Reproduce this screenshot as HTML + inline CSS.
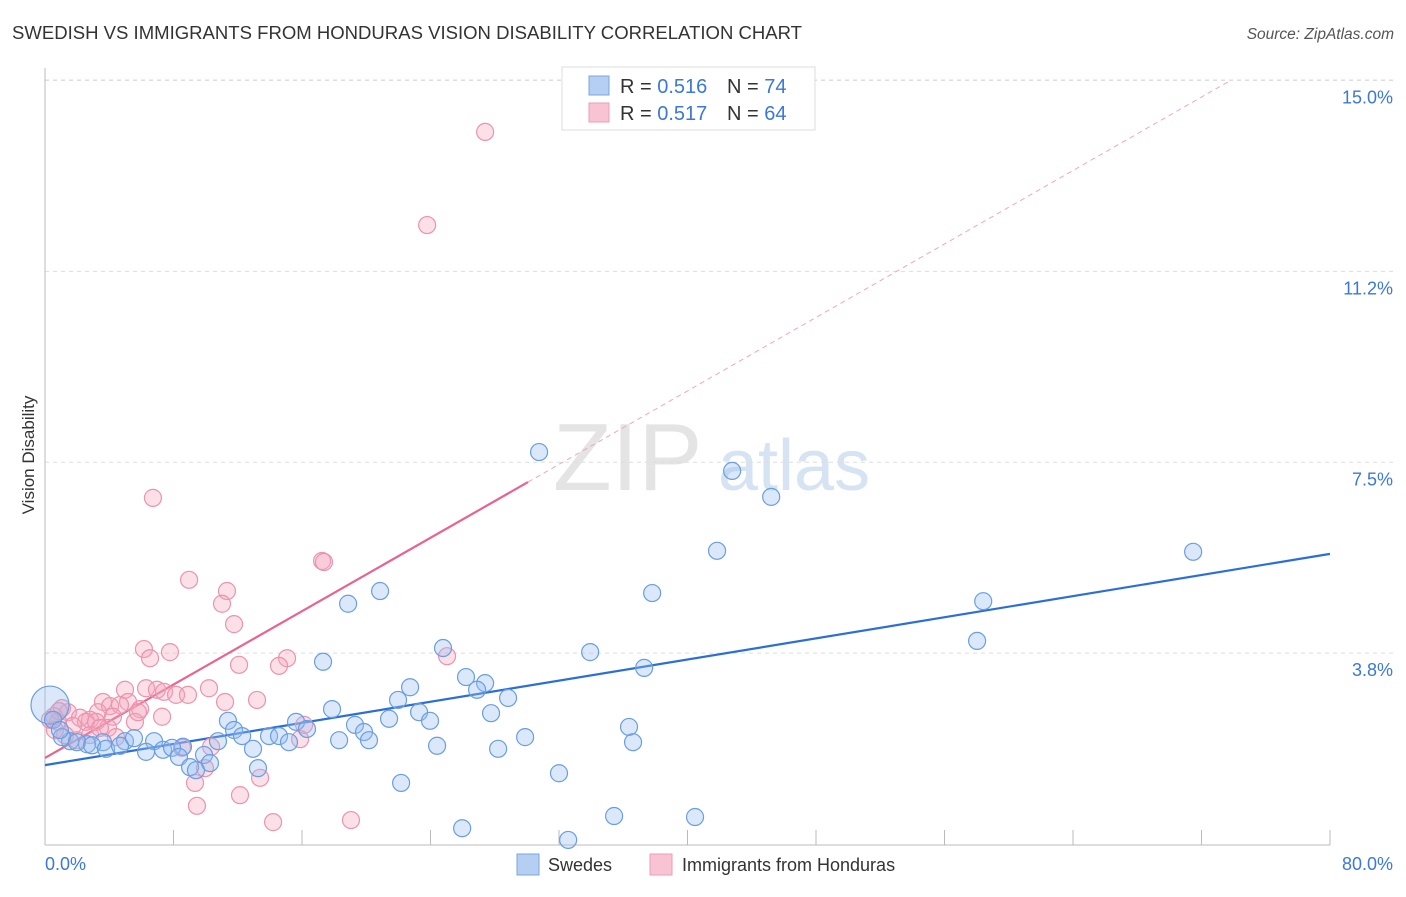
<!DOCTYPE html>
<html><head><meta charset="utf-8"><style>
body{margin:0;background:#fff;font-family:"Liberation Sans",sans-serif;}
svg text{font-family:"Liberation Sans",sans-serif;}
</style></head><body>
<svg id="chart" width="1406" height="892" xmlns="http://www.w3.org/2000/svg">
<text x="12" y="39" font-size="18.5" fill="#333" textLength="790" lengthAdjust="spacingAndGlyphs">SWEDISH VS IMMIGRANTS FROM HONDURAS VISION DISABILITY CORRELATION CHART</text>
<text x="1394" y="39" font-size="15.5" fill="#555" font-style="italic" text-anchor="end">Source: ZipAtlas.com</text>
<g>
<text x="553" y="490" font-size="96" font-family="Liberation Serif,serif" fill="#e4e4e4">ZIP</text>
<text x="718" y="490" font-size="72" fill="#d6e3f3">atlas</text>
</g>
<g id="grid"></g>
<g id="axes"></g>
<g id="trend"></g>
<g id="pts"></g>
<text transform="translate(34,455) rotate(-90)" font-size="17" fill="#333" text-anchor="middle">Vision Disability</text>
<g>
<rect x="562" y="67" width="253" height="63" fill="#fff" stroke="#ddd"/>
<rect x="589" y="76" width="20" height="19" fill="#b5cff2" stroke="#7aa6e2"/>
<rect x="589" y="103" width="20" height="19" fill="#f8c3d3" stroke="#ee9db6"/>
<text x="620" y="93" font-size="20" fill="#333">R = <tspan fill="#3b78d8">0.516</tspan></text>
<text x="727" y="93" font-size="20" fill="#333">N = <tspan fill="#3b78d8">74</tspan></text>
<text x="620" y="120" font-size="20" fill="#333">R = <tspan fill="#3b78d8">0.517</tspan></text>
<text x="727" y="120" font-size="20" fill="#333">N = <tspan fill="#3b78d8">64</tspan></text>
</g>
<g>
<rect x="517" y="854" width="22" height="21" fill="#b5cff2" stroke="#7aa6e2"/>
<text x="548" y="871" font-size="18" fill="#333">Swedes</text>
<rect x="650" y="854" width="22" height="21" fill="#f8c3d3" stroke="#ee9db6"/>
<text x="682" y="871" font-size="18" fill="#333">Immigrants from Honduras</text>
</g>
</svg>
<script>
const yTicks=[3.8,7.5,11.2,15.0];
const yTickVals=[3.75,7.5,11.25,15.0];
const xTickVals=[0,8,16,24,32,40,48,56,64,72,80];
const blueX=[30.76,42.78,45.21,41.84,71.48,58.41,58.03,37.80,20.86,18.87,33.94,37.30,24.78,17.31,26.21,27.40,22.73,26.90,28.83,21.98,17.87,23.29,27.77,21.42,23.97,11.39,15.63,19.30,19.86,16.31,11.77,12.27,13.95,14.57,36.36,29.89,18.31,20.17,15.19,10.77,36.61,24.41,28.21,12.95,6.79,8.59,9.90,6.29,7.35,7.91,4.98,3.61,2.62,1.56,1.06,1.99,2.93,3.80,4.67,5.54,8.34,9.03,10.27,9.40,13.26,32.00,22.17,35.43,40.47,25.97,32.57,0.31,0.50,0.93];
const blueY=[7.70,7.33,6.82,5.76,5.74,4.77,3.99,4.93,4.97,4.72,3.77,3.46,3.85,3.58,3.28,3.16,3.08,3.03,2.87,2.83,2.65,2.59,2.57,2.46,2.42,2.42,2.40,2.34,2.20,2.26,2.24,2.12,2.12,2.12,2.30,2.10,2.04,2.04,2.00,2.02,2.00,1.93,1.87,1.87,2.02,1.91,1.75,1.81,1.85,1.89,2.02,2.00,1.96,2.02,2.10,2.00,1.94,1.87,1.93,2.08,1.71,1.51,1.59,1.45,1.49,1.39,1.20,0.55,0.53,0.31,0.08,2.73,2.44,2.24];
const pinkX=[27.40,23.79,6.72,17.25,17.37,8.97,11.33,11.02,11.77,6.16,7.78,6.54,15.07,14.57,12.08,25.03,4.98,6.29,10.21,6.97,7.41,8.16,8.90,11.21,13.20,3.61,4.05,5.17,5.92,4.67,3.30,2.80,1.06,1.43,2.18,2.55,3.18,1.74,4.23,5.60,7.29,5.79,3.92,0.81,0.56,0.87,15.88,16.13,8.53,10.34,4.42,9.96,13.39,9.34,12.14,9.46,14.20,19.05,0.31,1.25,0.62,1.99,2.80,3.42];
const pinkY=[13.99,12.16,6.80,5.56,5.54,5.19,4.97,4.72,4.32,3.83,3.77,3.65,3.65,3.50,3.52,3.69,3.03,3.06,3.06,3.03,2.99,2.93,2.93,2.79,2.83,2.79,2.71,2.79,2.65,2.73,2.59,2.44,2.67,2.59,2.48,2.40,2.40,2.32,2.50,2.40,2.50,2.59,2.28,2.40,2.51,2.61,2.06,2.34,1.89,1.91,2.10,1.49,1.30,1.20,0.96,0.75,0.43,0.47,2.44,2.14,2.24,2.04,2.14,2.28];
const blueTrend=[[0,1.55],[80,5.7]];
const pinkTrend=[[0,1.69],[30.07,7.11]];
const pinkDash=[[30.07,7.11],[73.8,15.0]];
const NS='http://www.w3.org/2000/svg';
const X=v=>45+v*1285/80, Y=v=>844-v*50.9;
function mk(parent,tag,attrs){const e=document.createElementNS(NS,tag);for(const k in attrs)e.setAttribute(k,attrs[k]);document.getElementById(parent).appendChild(e);return e;}
mk('grid','line',{x1:45,x2:1394,y1:80,y2:80,stroke:'#ddd','stroke-dasharray':'4,4'});
yTickVals.forEach((v,i)=>{
 const g=mk('grid','line',{x1:45,x2:1394,y1:Y(v),y2:Y(v),stroke:'#ddd','stroke-dasharray':'4,4'});
 
 
 const t=mk('axes','text',{x:1393,y:Y(v)+23,'font-size':18,fill:'#3b78d8','text-anchor':'end'});
 t.textContent=yTicks[i].toFixed(1)+'%';
 
 
});
mk('axes','line',{x1:45,x2:45,y1:68,y2:845,stroke:'#bbb'});
mk('axes','line',{x1:45,x2:1330,y1:845,y2:845,stroke:'#bbb'});
xTickVals.forEach(v=>{if(v>0){const l=mk('axes','line',{x1:X(v),x2:X(v),y1:830,y2:845,stroke:'#bbb'});}});
const xl=mk('axes','text',{x:45,y:870,'font-size':18,fill:'#3b78d8'});xl.textContent='0.0%';


const xr=mk('axes','text',{x:1393,y:870,'font-size':18,fill:'#3b78d8','text-anchor':'end'});xr.textContent='80.0%';


pinkX.forEach((x,i)=>{const c=mk('pts','circle',{cx:X(x),cy:Y(pinkY[i]),r:8.5,fill:'rgba(243,166,190,0.35)',stroke:'#ec93ae','stroke-width':1.2});
 
 });
blueX.forEach((x,i)=>{const c=mk('pts','circle',{cx:X(x),cy:Y(blueY[i]),r:i==71?19:8.5,fill:'rgba(150,190,240,0.35)',stroke:'#6a9ee0','stroke-width':1.2});
 
 });
const bl=mk('trend','line',{x1:X(blueTrend[0][0]),y1:Y(blueTrend[0][1]),x2:X(blueTrend[1][0]),y2:Y(blueTrend[1][1]),stroke:'#2b6fd6','stroke-width':2.2});


const pl=mk('trend','line',{x1:X(pinkTrend[0][0]),y1:Y(pinkTrend[0][1]),x2:X(pinkTrend[1][0]),y2:Y(pinkTrend[1][1]),stroke:'#e8648f','stroke-width':2.2});


const pd=mk('trend','line',{x1:X(pinkDash[0][0]),y1:Y(pinkDash[0][1]),x2:X(pinkDash[1][0]),y2:Y(pinkDash[1][1]),stroke:'#f0a6be','stroke-width':1,'stroke-dasharray':'5,4'});


</script>
</body></html>
